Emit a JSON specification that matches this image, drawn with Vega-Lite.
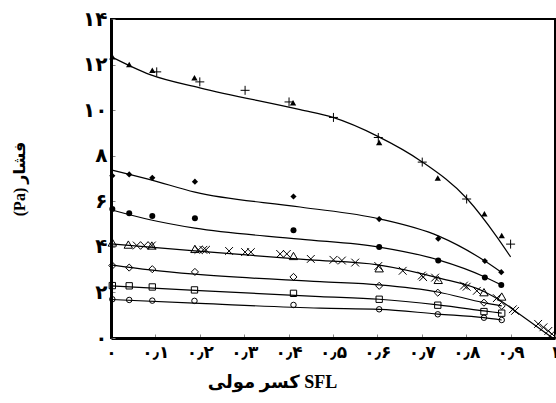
{
  "$schema": "https://vega.github.io/schema/vega-lite/v6.json",
  "width": 444,
  "height": 319,
  "autosize": "none",
  "padding": {"left": 111, "top": 19, "right": 1, "bottom": 65},
  "background": "white",
  "config": {
    "view": {"stroke": "black", "strokeWidth": 2},
    "axis": {"grid": false, "domainColor": "black", "domainWidth": 3, "tickColor": "#888", "labelColor": "black", "titleColor": "black", "labelFont": "Liberation Serif, DejaVu Sans", "titleFont": "Liberation Serif, DejaVu Sans", "labelFontWeight": "bold", "titleFontWeight": "bold"}
  },
  "datasets": {
    "solid": [
      {"x": 0.003, "y": 12.34, "s": "tri"}, {"x": 0.041, "y": 12.0, "s": "tri"}, {"x": 0.093, "y": 11.75, "s": "tri"}, {"x": 0.188, "y": 11.42, "s": "tri"}, {"x": 0.41, "y": 10.32, "s": "tri"}, {"x": 0.604, "y": 8.58, "s": "tri"}, {"x": 0.736, "y": 7.02, "s": "tri"}, {"x": 0.841, "y": 5.45, "s": "tri"}, {"x": 0.88, "y": 4.5, "s": "tri"},
      {"x": 0.003, "y": 7.12, "s": "dia"}, {"x": 0.041, "y": 7.18, "s": "dia"}, {"x": 0.093, "y": 7.03, "s": "dia"}, {"x": 0.189, "y": 6.86, "s": "dia"}, {"x": 0.411, "y": 6.21, "s": "dia"}, {"x": 0.604, "y": 5.22, "s": "dia"}, {"x": 0.737, "y": 4.36, "s": "dia"}, {"x": 0.842, "y": 3.38, "s": "dia"}, {"x": 0.879, "y": 2.89, "s": "dia"},
      {"x": 0.003, "y": 5.66, "s": "cir"}, {"x": 0.041, "y": 5.48, "s": "cir"}, {"x": 0.093, "y": 5.35, "s": "cir"}, {"x": 0.189, "y": 5.26, "s": "cir"}, {"x": 0.411, "y": 4.73, "s": "cir"}, {"x": 0.604, "y": 3.99, "s": "cir"}, {"x": 0.737, "y": 3.4, "s": "cir"}, {"x": 0.842, "y": 2.65, "s": "cir"}, {"x": 0.879, "y": 2.33, "s": "cir"}
    ],
    "hollow": [
      {"x": 0.103, "y": 11.68, "s": "plus"}, {"x": 0.2, "y": 11.24, "s": "plus"}, {"x": 0.302, "y": 10.87, "s": "plus"}, {"x": 0.401, "y": 10.36, "s": "plus"}, {"x": 0.501, "y": 9.68, "s": "plus"}, {"x": 0.602, "y": 8.8, "s": "plus"}, {"x": 0.701, "y": 7.72, "s": "plus"}, {"x": 0.801, "y": 6.1, "s": "plus"}, {"x": 0.9, "y": 4.12, "s": "plus"},
      {"x": 0.003, "y": 4.19, "s": "otri"}, {"x": 0.039, "y": 4.1, "s": "otri"}, {"x": 0.092, "y": 4.06, "s": "otri"}, {"x": 0.189, "y": 3.91, "s": "otri"}, {"x": 0.411, "y": 3.6, "s": "otri"}, {"x": 0.604, "y": 3.06, "s": "otri"}, {"x": 0.737, "y": 2.55, "s": "otri"}, {"x": 0.84, "y": 2.01, "s": "otri"}, {"x": 0.88, "y": 1.82, "s": "otri"},
      {"x": 0.058, "y": 4.06, "s": "x"}, {"x": 0.075, "y": 4.06, "s": "x"}, {"x": 0.092, "y": 4.06, "s": "x"}, {"x": 0.197, "y": 3.87, "s": "x"}, {"x": 0.208, "y": 3.87, "s": "x"}, {"x": 0.214, "y": 3.87, "s": "x"}, {"x": 0.266, "y": 3.82, "s": "x"}, {"x": 0.302, "y": 3.77, "s": "x"}, {"x": 0.315, "y": 3.77, "s": "x"}, {"x": 0.381, "y": 3.69, "s": "x"}, {"x": 0.396, "y": 3.69, "s": "x"}, {"x": 0.45, "y": 3.47, "s": "x"}, {"x": 0.501, "y": 3.43, "s": "x"}, {"x": 0.52, "y": 3.4, "s": "x"}, {"x": 0.55, "y": 3.31, "s": "x"}, {"x": 0.602, "y": 3.16, "s": "x"}, {"x": 0.657, "y": 2.95, "s": "x"}, {"x": 0.7, "y": 2.74, "s": "x"}, {"x": 0.703, "y": 2.67, "s": "x"}, {"x": 0.73, "y": 2.65, "s": "x"}, {"x": 0.795, "y": 2.3, "s": "x"}, {"x": 0.801, "y": 2.25, "s": "x"}, {"x": 0.824, "y": 2.07, "s": "x"}, {"x": 0.869, "y": 1.75, "s": "x"}, {"x": 0.905, "y": 1.26, "s": "x"}, {"x": 0.91, "y": 1.19, "s": "x"}, {"x": 0.962, "y": 0.62, "s": "x"}, {"x": 0.974, "y": 0.47, "s": "x"}, {"x": 0.985, "y": 0.31, "s": "x"}, {"x": 0.993, "y": 0.18, "s": "x"},
      {"x": 0.003, "y": 3.18, "s": "odia"}, {"x": 0.041, "y": 3.09, "s": "odia"}, {"x": 0.093, "y": 3.02, "s": "odia"}, {"x": 0.189, "y": 2.9, "s": "odia"}, {"x": 0.411, "y": 2.68, "s": "odia"}, {"x": 0.604, "y": 2.29, "s": "odia"}, {"x": 0.736, "y": 1.99, "s": "odia"}, {"x": 0.84, "y": 1.55, "s": "odia"}, {"x": 0.88, "y": 1.41, "s": "odia"},
      {"x": 0.003, "y": 2.3, "s": "sq"}, {"x": 0.041, "y": 2.29, "s": "sq"}, {"x": 0.093, "y": 2.24, "s": "sq"}, {"x": 0.188, "y": 2.11, "s": "sq"}, {"x": 0.411, "y": 1.96, "s": "sq"}, {"x": 0.604, "y": 1.7, "s": "sq"}, {"x": 0.736, "y": 1.44, "s": "sq"}, {"x": 0.84, "y": 1.16, "s": "sq"}, {"x": 0.88, "y": 1.09, "s": "sq"},
      {"x": 0.003, "y": 1.7, "s": "ocir"}, {"x": 0.041, "y": 1.67, "s": "ocir"}, {"x": 0.093, "y": 1.64, "s": "ocir"}, {"x": 0.188, "y": 1.63, "s": "ocir"}, {"x": 0.411, "y": 1.45, "s": "ocir"}, {"x": 0.604, "y": 1.26, "s": "ocir"}, {"x": 0.736, "y": 1.04, "s": "ocir"}, {"x": 0.84, "y": 0.89, "s": "ocir"}, {"x": 0.88, "y": 0.79, "s": "ocir"}
    ],
    "fit": [
      {"x": 0.0, "y": 12.35, "c": "a"}, {"x": 0.088, "y": 11.56, "c": "a"}, {"x": 0.2, "y": 10.98, "c": "a"}, {"x": 0.426, "y": 10.02, "c": "a"}, {"x": 0.5, "y": 9.68, "c": "a"}, {"x": 0.601, "y": 8.85, "c": "a"}, {"x": 0.7, "y": 7.74, "c": "a"}, {"x": 0.802, "y": 6.11, "c": "a"}, {"x": 0.869, "y": 4.44, "c": "a"}, {"x": 0.9, "y": 3.56, "c": "a"},
      {"x": 0.0, "y": 7.38, "c": "b"}, {"x": 0.088, "y": 6.95, "c": "b"}, {"x": 0.189, "y": 6.4, "c": "b"}, {"x": 0.426, "y": 5.75, "c": "b"}, {"x": 0.604, "y": 5.23, "c": "b"}, {"x": 0.737, "y": 4.48, "c": "b"}, {"x": 0.842, "y": 3.38, "c": "b"}, {"x": 0.879, "y": 2.89, "c": "b"},
      {"x": 0.0, "y": 5.63, "c": "d"}, {"x": 0.088, "y": 5.19, "c": "d"}, {"x": 0.189, "y": 4.82, "c": "d"}, {"x": 0.426, "y": 4.34, "c": "d"}, {"x": 0.604, "y": 3.99, "c": "d"}, {"x": 0.737, "y": 3.43, "c": "d"}, {"x": 0.842, "y": 2.68, "c": "d"}, {"x": 0.879, "y": 2.33, "c": "d"},
      {"x": 0.0, "y": 4.13, "c": "e"}, {"x": 0.189, "y": 3.82, "c": "e"}, {"x": 0.448, "y": 3.43, "c": "e"}, {"x": 0.601, "y": 3.21, "c": "e"}, {"x": 0.737, "y": 2.64, "c": "e"}, {"x": 0.84, "y": 2.04, "c": "e"}, {"x": 0.88, "y": 1.6, "c": "e"}, {"x": 0.91, "y": 1.19, "c": "e"}, {"x": 0.995, "y": 0.0, "c": "e"},
      {"x": 0.0, "y": 3.21, "c": "f"}, {"x": 0.088, "y": 2.99, "c": "f"}, {"x": 0.189, "y": 2.8, "c": "f"}, {"x": 0.471, "y": 2.47, "c": "f"}, {"x": 0.604, "y": 2.33, "c": "f"}, {"x": 0.736, "y": 2.02, "c": "f"}, {"x": 0.84, "y": 1.55, "c": "f"}, {"x": 0.88, "y": 1.41, "c": "f"},
      {"x": 0.0, "y": 2.29, "c": "g"}, {"x": 0.2, "y": 2.08, "c": "g"}, {"x": 0.471, "y": 1.82, "c": "g"}, {"x": 0.604, "y": 1.7, "c": "g"}, {"x": 0.736, "y": 1.45, "c": "g"}, {"x": 0.84, "y": 1.19, "c": "g"}, {"x": 0.88, "y": 1.09, "c": "g"},
      {"x": 0.0, "y": 1.69, "c": "h"}, {"x": 0.2, "y": 1.52, "c": "h"}, {"x": 0.471, "y": 1.31, "c": "h"}, {"x": 0.604, "y": 1.26, "c": "h"}, {"x": 0.736, "y": 1.05, "c": "h"}, {"x": 0.84, "y": 0.89, "c": "h"}, {"x": 0.88, "y": 0.79, "c": "h"}
    ]
  },
  "encoding": {
    "x": {
      "field": "x", "type": "quantitative",
      "scale": {"domain": [0, 1], "nice": false},
      "axis": {
        "title": "کسر مولی SFL",
        "titleFontSize": 18, "titlePadding": 13, "titleX": 161,
        "values": [0, 0.1, 0.2, 0.3, 0.4, 0.5, 0.6, 0.7, 0.8, 0.9, 1],
        "labelExpr": "['۰','۰٫۱','۰٫۲','۰٫۳','۰٫۴','۰٫۵','۰٫۶','۰٫۷','۰٫۸','۰٫۹','۱'][round(datum.value*10)]",
        "labelFontSize": 17, "labelPadding": 10, "tickSize": -4, "labelFlush": false
      }
    },
    "y": {
      "field": "y", "type": "quantitative",
      "scale": {"domain": [0, 14], "nice": false},
      "axis": {
        "title": "(Pa) فشار",
        "titleFontSize": 16, "titlePadding": 55,
        "values": [0, 2, 4, 6, 8, 10, 12, 14],
        "labelExpr": "['۰','۲','۴','۶','۸','۱۰','۱۲','۱۴'][round(datum.value/2)]",
        "labelFontSize": 20, "labelPadding": 8, "tickSize": -4
      }
    }
  },
  "layer": [
    {
      "data": {"name": "fit"},
      "mark": {"type": "line", "interpolate": "monotone", "color": "black", "strokeWidth": 1.2},
      "encoding": {"detail": {"field": "c", "type": "nominal"}}
    },
    {
      "data": {"name": "solid"},
      "mark": {"type": "point", "filled": true, "color": "black", "opacity": 1},
      "encoding": {
        "shape": {"field": "s", "type": "nominal", "legend": null, "scale": {"domain": ["tri", "dia", "cir"], "range": ["triangle-up", "diamond", "circle"]}},
        "size": {"field": "s", "type": "nominal", "legend": null, "scale": {"domain": ["tri", "dia", "cir"], "range": [40, 36, 45]}}
      }
    },
    {
      "data": {"name": "hollow"},
      "mark": {"type": "point", "filled": false, "color": "black", "opacity": 1, "strokeWidth": 1},
      "encoding": {
        "shape": {"field": "s", "type": "nominal", "legend": null, "scale": {"domain": ["plus", "otri", "x", "odia", "sq", "ocir"], "range": ["M-1,0L1,0M0,-1L0,1", "triangle-up", "M-1,-1L1,1M-1,1L1,-1", "diamond", "square", "circle"]}},
        "size": {"field": "s", "type": "nominal", "legend": null, "scale": {"domain": ["plus", "otri", "x", "odia", "sq", "ocir"], "range": [81, 30, 50, 25, 40, 36]}}
      }
    }
  ],
  "resolve": {"scale": {"shape": "independent", "size": "independent"}}
}
